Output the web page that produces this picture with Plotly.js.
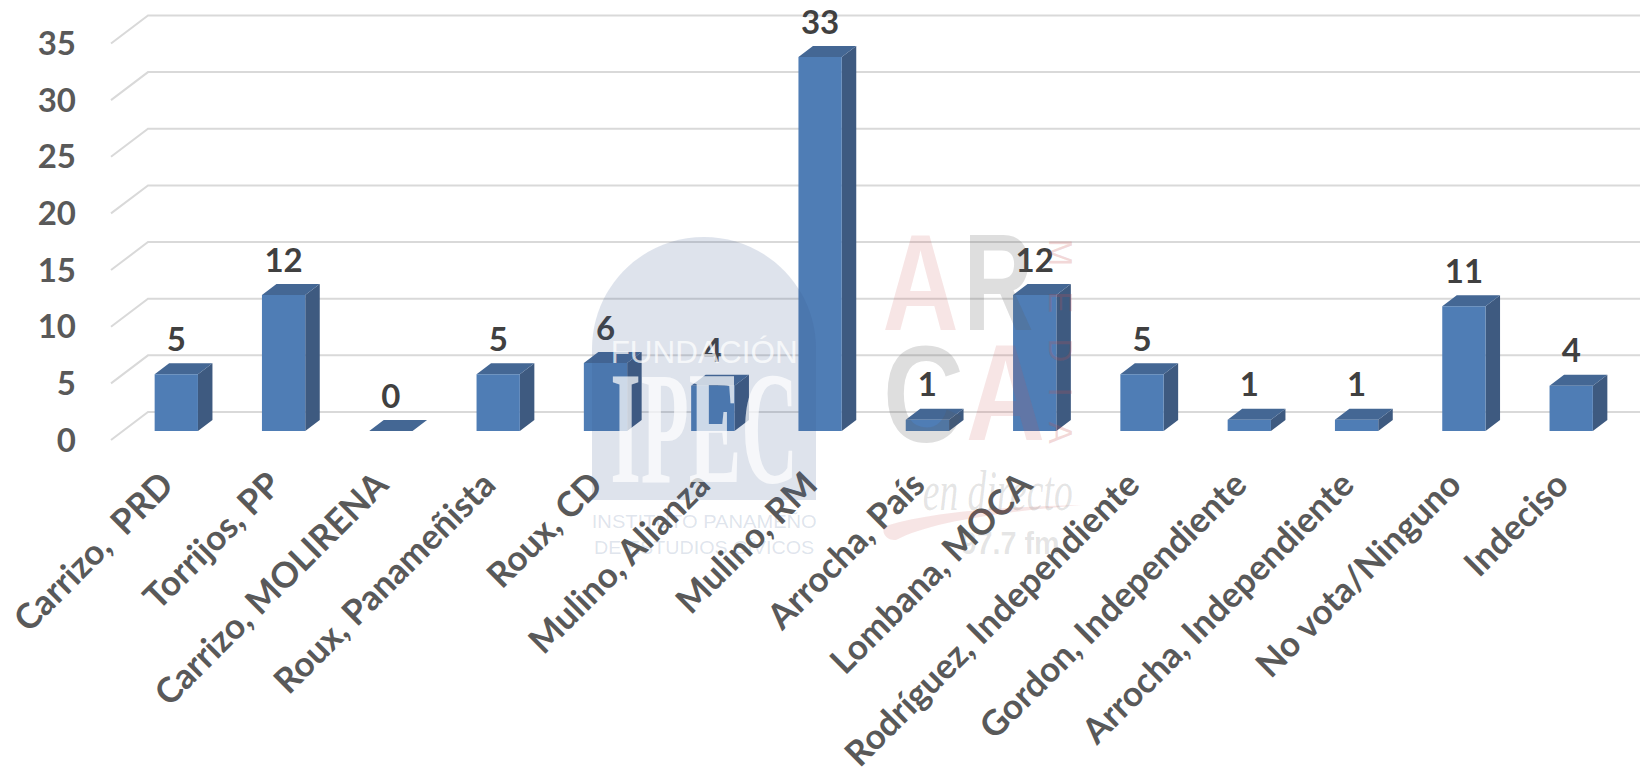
<!DOCTYPE html>
<html><head><meta charset="utf-8">
<script src="https://cdn.plot.ly/plotly-3.0.1.min.js"></script>
<style>html,body{margin:0;padding:0;background:#fff;overflow:hidden}</style>
</head><body><div id="chart" style="width:1640px;height:778px"></div>
<script>
const categories = ["Carrizo,  PRD","Torrijos, PP","Carrizo, MOLIRENA","Roux, Panameñista","Roux, CD","Mulino, Alianza","Mulino, RM","Arrocha, País","Lombana, MOCA","Rodríguez, Independiente","Gordon, Independiente","Arrocha, Independiente","No vota/Ninguno","Indeciso"];
const values = [5,12,0,5,6,4,33,1,12,5,1,1,11,4];
const yTicks = [0,5,10,15,20,25,30,35];

// geometry of the drawing, in pixels
const W = 1640, H = 778, plotH = 460;
const pitch = 107.3, firstCenter = 176.3, unitPx = 11.33, base0 = 431;
const barPx = 43.3, depthX = 14.5, depthY = 11;
const xRange = [-firstCenter/pitch, (W-firstCenter)/pitch];
const yRange = [(base0-plotH)/unitPx, base0/unitPx];
const dx = depthX/pitch, dy = depthY/unitPx, hw = barPx/pitch/2;
const frontDY = -9/unitPx, backDY = 19/unitPx;
const gridFrontX = (111-firstCenter)/pitch, gridBackX = (148-firstCenter)/pitch;

const gx=[], gy=[];
yTicks.forEach(v=>{ gx.push(gridFrontX,gridBackX,xRange[1],null); gy.push(v+frontDY,v+backDY,v+backDY,null); });
const sx=[], sy=[], tx=[], ty=[];
values.forEach((v,i)=>{
  if(v>0){ sx.push(i+hw,i+hw+dx,i+hw+dx,i+hw,i+hw,null); sy.push(0,dy,v+dy,v,0,null); }
  tx.push(i-hw,i-hw+dx,i+hw+dx,i+hw,i-hw,null); ty.push(v,v+dy,v+dy,v,v,null);
});
const labelFont = {family:"Lato, Carlito, sans-serif", size:35, color:"#595959", weight:700};
const axisFont = {family:"Lato, Carlito, sans-serif", size:33, color:"#595959", weight:700};

const traces = [
  {type:"scatter",mode:"lines",x:gx,y:gy,line:{color:"#d9d9d9",width:2},hoverinfo:"skip",showlegend:false},
  {type:"scatter",mode:"lines",x:sx,y:sy,fill:"toself",fillcolor:"#3e5a80",line:{width:0,color:"#3e5a80"},hoverinfo:"skip",showlegend:false},
  {type:"scatter",mode:"lines",x:tx,y:ty,fill:"toself",fillcolor:"#446794",line:{width:0,color:"#446794"},hoverinfo:"skip",showlegend:false},
  {type:"scatter",mode:"text",x:values.map((v,i)=>i),y:values.map(v=>v+dy+4/unitPx),text:values.map(String),textposition:"top center",
   textfont:{family:"Lato, Carlito, sans-serif",size:33,color:"#404040",weight:700},hoverinfo:"skip",showlegend:false,cliponaxis:false},
  {type:"bar",x:categories,y:values,xaxis:"x2",yaxis:"y",width:barPx/pitch,marker:{color:"#4f7db5",line:{width:0}},showlegend:false},
  {type:"scatter",mode:"markers",x:yTicks.map(()=>0),y:yTicks,yaxis:"y2",marker:{opacity:0,size:1},hoverinfo:"skip",showlegend:false}
];

const X = p => p/W, Y = p => (plotH-p)/plotH;
const arch = "M"+X(592)+","+Y(500)+" L"+X(592)+","+Y(349)+" C"+X(592)+","+Y(287)+" "+X(642)+","+Y(237)+" "+X(704)+","+Y(237)+" C"+X(766)+","+Y(237)+" "+X(816)+","+Y(287)+" "+X(816)+","+Y(349)+" L"+X(816)+","+Y(500)+" Z";
const swoosh = "M"+X(1081)+","+Y(505)+" C"+X(1000)+","+Y(507)+" "+X(930)+","+Y(512)+" "+X(886)+","+Y(526)+" C"+X(880)+","+Y(530)+" "+X(885)+","+Y(541)+" "+X(896)+","+Y(540)+" C"+X(930)+","+Y(522)+" "+X(1000)+","+Y(512)+" "+X(1081)+","+Y(505)+" Z";

const pink="rgba(200,80,80,0.15)", pinkText="rgba(200,80,80,0.22)", gray="rgba(90,90,90,0.2)", slate="rgba(60,90,140,0.17)", white="rgba(255,255,255,0.72)", faint="rgba(90,90,90,0.16)";
const A=(t,px,py,font,extra)=>Object.assign({text:t,x:X(px),y:Y(py),xref:"paper",yref:"paper",xanchor:"center",yanchor:"middle",showarrow:false,font:font},extra||{});
const sans="Liberation Sans, Arial, sans-serif", serif="Liberation Serif, serif";
const marks=[
  [A("FUNDACIÓN",704,352,{family:sans,size:31,color:white}),187,"spacingAndGlyphs"],
  [A("IPEC",704,428,{family:serif,size:160,color:white,weight:700}),188,"spacingAndGlyphs"],
  [A("INSTITUTO PANAMEÑO",704,521,{family:sans,size:19,color:slate}),225,"spacingAndGlyphs"],
  [A("DE ESTUDIOS CÍVICOS",704,547,{family:sans,size:19,color:slate}),220,"spacingAndGlyphs"],
  [A("A",920,282,{family:sans,size:137,color:pink,weight:700}),76,"spacingAndGlyphs"],
  [A("R",998,282,{family:sans,size:137,color:gray,weight:700}),70,"spacingAndGlyphs"],
  [A("C",924,394,{family:sans,size:137,color:gray,weight:700}),81,"spacingAndGlyphs"],
  [A("A",1005,392,{family:sans,size:137,color:pink,weight:700}),79,"spacingAndGlyphs"],
  [A("MEDIA",1061,341,{family:sans,size:33,color:pinkText},{textangle:90}),205,"spacing"],
  [A("en directo",997,490,{family:serif,size:58,color:faint,style:"italic"}),150,"spacingAndGlyphs"],
  [A("97.7 fm",1010,543,{family:sans,size:32,color:faint,weight:700}),99,"spacingAndGlyphs"]
];

const layout = {
  width:W,height:H,margin:{l:0,r:0,t:0,b:H-plotH,pad:0},paper_bgcolor:"#fff",plot_bgcolor:"rgba(0,0,0,0)",showlegend:false,
  xaxis:{type:"linear",range:xRange,visible:false,fixedrange:true},
  xaxis2:{type:"category",overlaying:"x",anchor:"y",side:"bottom",range:xRange,categoryorder:"array",categoryarray:categories,
    tickmode:"array",tickvals:categories,ticktext:categories,ticklabelshift:-13,ticklabelstandoff:-4,
    tickangle:-45,tickfont:labelFont,showgrid:false,zeroline:false,showline:false,ticks:"",ticklen:0,fixedrange:true,automargin:false},
  yaxis:{range:yRange,visible:false,fixedrange:true},
  yaxis2:{overlaying:"y",anchor:"free",position:76/W,side:"left",range:[(440-plotH)/unitPx,440/unitPx],tickmode:"array",tickvals:yTicks,
    ticktext:yTicks.map(String),tickfont:axisFont,showgrid:false,zeroline:false,showline:false,ticks:"",fixedrange:true,automargin:false},
  shapes:[
    {type:"path",path:arch,xref:"paper",yref:"paper",fillcolor:slate,line:{width:0},layer:"above"},
    {type:"path",path:swoosh,xref:"paper",yref:"paper",fillcolor:pink,line:{width:0},layer:"above"}
  ],
  annotations:marks.map(m=>m[0])
};
Plotly.newPlot("chart",traces,layout,{displayModeBar:false,staticPlot:true}).then(gd=>{
  const nodes=gd.querySelectorAll(".annotation-text");
  nodes.forEach((n,i)=>{ n.setAttribute("textLength",marks[i][1]); n.setAttribute("lengthAdjust",marks[i][2]); });
});
</script></body></html>
